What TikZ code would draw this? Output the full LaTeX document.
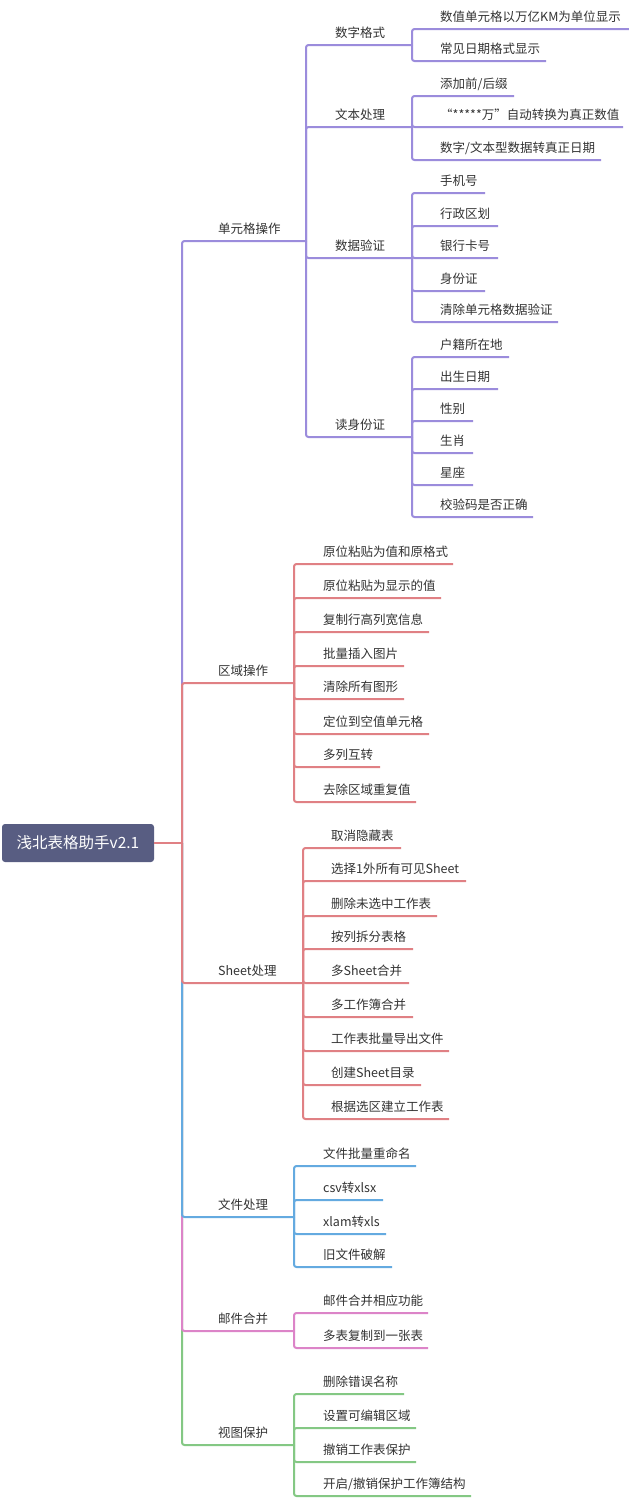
\documentclass[tikz,border=0pt]{standalone}
\usepackage{fontspec}
\setmainfont{Noto Sans CJK SC}
\definecolor{cpur}{HTML}{9B8CDC}
\definecolor{cred}{HTML}{E08084}
\definecolor{cblu}{HTML}{64AAE0}
\definecolor{cpnk}{HTML}{DC84C8}
\definecolor{cgrn}{HTML}{84C884}
\definecolor{rootc}{HTML}{585D82}
\definecolor{txt}{HTML}{333333}
\tikzset{
  lbl/.style={inner sep=0pt, anchor=base west, text=txt, font=\fontsize{12.5}{15}\selectfont},
  conn/.style={line width=2pt, rounded corners=2.5pt},
  rootbox/.style={fill=rootc, text=white, rounded corners=3pt, minimum width=152pt,
    minimum height=38pt, inner sep=0pt, font=\fontsize{15.5}{18}\selectfont}
}
% #1 name, #2 parent, #3 underline y, #4 underline end x, #5 text x, #6 text, #7 colour
\newcommand\kid[7]{%
  \coordinate (#1-e) at (#4,-#3);
  \draw[conn,#7] (#2-e) |- (#1-e);
  \node[lbl] (#1) at (#5,-#3+7.5) {#6};
}
\begin{document}
\begin{tikzpicture}[x=1pt,y=1pt]
\fill[white] (0,0) rectangle (629,-1500);
\useasboundingbox (0,0) rectangle (629,-1500);
% root
\node[rootbox] (root) at (78,-843) {浅北表格助手v2.1};
\coordinate (root-e) at (182,-843);
% 单元格操作
\kid{a}{root}{241}{306}{218}{单元格操作}{cpur}
\kid{a1}{a}{45}{412}{335}{数字格式}{cpur}
\kid{a11}{a1}{29}{629}{440}{数值单元格以万亿KM为单位显示}{cpur}
\kid{a12}{a1}{61}{546}{440}{常见日期格式显示}{cpur}
\kid{a2}{a}{127}{412}{335}{文本处理}{cpur}
\kid{a21}{a2}{96}{514}{440}{添加前/后缀}{cpur}
\kid{a22}{a2}{127}{623}{440}{“*****万”自动转换为真正数值}{cpur}
\kid{a23}{a2}{160}{601}{440}{数字/文本型数据转真正日期}{cpur}
\kid{a3}{a}{258}{412}{335}{数据验证}{cpur}
\kid{a31}{a3}{193}{485}{440}{手机号}{cpur}
\kid{a32}{a3}{226}{498}{440}{行政区划}{cpur}
\kid{a33}{a3}{258}{498}{440}{银行卡号}{cpur}
\kid{a34}{a3}{291}{485}{440}{身份证}{cpur}
\kid{a35}{a3}{322}{558}{440}{清除单元格数据验证}{cpur}
\kid{a4}{a}{437}{412}{335}{读身份证}{cpur}
\kid{a41}{a4}{357}{509}{440}{户籍所在地}{cpur}
\kid{a42}{a4}{389}{498}{440}{出生日期}{cpur}
\kid{a43}{a4}{421}{473}{440}{性别}{cpur}
\kid{a44}{a4}{453}{473}{440}{生肖}{cpur}
\kid{a45}{a4}{485}{473}{440}{星座}{cpur}
\kid{a46}{a4}{517}{533}{440}{校验码是否正确}{cpur}
% 视图保护
\kid{f}{root}{1445}{294}{218}{视图保护}{cgrn}
\kid{f1}{f}{1394}{404}{323}{删除错误名称}{cgrn}
\kid{f2}{f}{1428}{416}{323}{设置可编辑区域}{cgrn}
\kid{f3}{f}{1462}{416}{323}{撤销工作表保护}{cgrn}
\kid{f4}{f}{1496}{471}{323}{开启/撤销保护工作簿结构}{cgrn}
% 邮件合并
\kid{e}{root}{1331}{294}{218}{邮件合并}{cpnk}
\kid{e1}{e}{1313}{428}{323}{邮件合并相应功能}{cpnk}
\kid{e2}{e}{1348}{428}{323}{多表复制到一张表}{cpnk}
% 文件处理
\kid{d}{root}{1217}{294}{218}{文件处理}{cblu}
\kid{d1}{d}{1166}{416}{323}{文件批量重命名}{cblu}
\kid{d2}{d}{1200}{383}{323}{csv转xlsx}{cblu}
\kid{d3}{d}{1234}{386}{323}{xlam转xls}{cblu}
\kid{d4}{d}{1267}{392}{323}{旧文件破解}{cblu}
% Sheet处理
\kid{c}{root}{983}{303}{218}{Sheet处理}{cred}
\kid{c1}{c}{848}{401}{331}{取消隐藏表}{cred}
\kid{c2}{c}{881}{466}{331}{选择1外所有可见Sheet}{cred}
\kid{c3}{c}{916}{437}{331}{删除未选中工作表}{cred}
\kid{c4}{c}{949}{413}{331}{按列拆分表格}{cred}
\kid{c5}{c}{983}{409}{331}{多Sheet合并}{cred}
\kid{c6}{c}{1017}{413}{331}{多工作簿合并}{cred}
\kid{c7}{c}{1051}{449}{331}{工作表批量导出文件}{cred}
\kid{c8}{c}{1085}{421}{331}{创建Sheet目录}{cred}
\kid{c9}{c}{1119}{449}{331}{根据选区建立工作表}{cred}
% 区域操作
\kid{b}{root}{683}{294}{218}{区域操作}{cred}
\kid{b1}{b}{564}{453}{323}{原位粘贴为值和原格式}{cred}
\kid{b2}{b}{598}{441}{323}{原位粘贴为显示的值}{cred}
\kid{b3}{b}{632}{429}{323}{复制行高列宽信息}{cred}
\kid{b4}{b}{666}{404}{323}{批量插入图片}{cred}
\kid{b5}{b}{699}{404}{323}{清除所有图形}{cred}
\kid{b6}{b}{734}{429}{323}{定位到空值单元格}{cred}
\kid{b7}{b}{767}{380}{323}{多列互转}{cred}
\kid{b8}{b}{802}{416}{323}{去除区域重复值}{cred}
% root connector
\draw[conn,cred] (root.east) -- (root-e);
\end{tikzpicture}
\end{document}
